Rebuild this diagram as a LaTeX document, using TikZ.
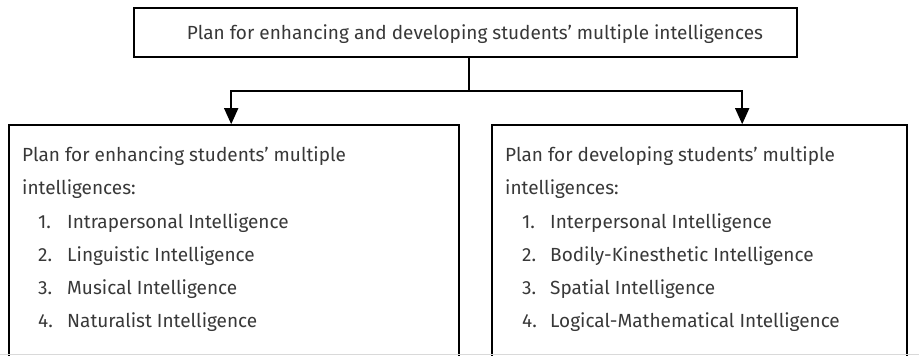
\documentclass[tikz,border=0pt]{standalone}
\usepackage{fontspec}
\setmainfont{Fira Sans}
\usetikzlibrary{arrows.meta,calc}
\begin{document}
\begin{tikzpicture}[x=1pt,y=-1pt,
  box/.style={draw,line width=1.6pt,rectangle,inner sep=0pt},
  conn/.style={line width=1.6pt},
  arr/.style={conn,-{Triangle[width=14pt,length=16pt]}},
  txt/.style={anchor=base west,inner sep=0pt,font=\fontsize{19}{22}\selectfont,text=black!78}]
\useasboundingbox (0,0) rectangle (919,356);
\node[box,minimum width=663pt,minimum height=49pt] (top) at (465.5,32.5) {};
\node[box,minimum width=450pt,minimum height=240pt] (left) at (234,245) {};
\node[box,minimum width=415pt,minimum height=240pt] (right) at (699.5,245) {};
\node[txt,anchor=base] (title) at (475,39) {Plan for enhancing and developing students’ multiple intelligences};
\coordinate (j) at (469,91);
\draw[conn] (top.south -| j) -- (j);
\draw[arr] (j) -| ($(left.north west)+(223,0)$);
\draw[arr] (j) -| ($(right.north west)+(251,0)$);
% left text
\node[txt] (l0) at (22,161) {Plan for enhancing students’ multiple};
\node[txt] (l1) at (22,194) {intelligences:};
\node[txt] (ln1) at (38,228) {1.};
\node[txt] (li1) at (67,228) {Intrapersonal Intelligence};
\node[txt] (ln2) at (38,261) {2.};
\node[txt] (li2) at (67,261) {Linguistic Intelligence};
\node[txt] (ln3) at (38,294) {3.};
\node[txt] (li3) at (67,294) {Musical Intelligence};
\node[txt] (ln4) at (38,327) {4.};
\node[txt] (li4) at (67,327) {Naturalist Intelligence};
% right text
\node[txt] (r0) at (505,161) {Plan for developing students’ multiple};
\node[txt] (r1) at (505,194) {intelligences:};
\node[txt] (rn1) at (522,228) {1.};
\node[txt] (ri1) at (550,228) {Interpersonal Intelligence};
\node[txt] (rn2) at (522,261) {2.};
\node[txt] (ri2) at (550,261) {Bodily-Kinesthetic Intelligence};
\node[txt] (rn3) at (522,294) {3.};
\node[txt] (ri3) at (550,294) {Spatial Intelligence};
\node[txt] (rn4) at (522,327) {4.};
\node[txt] (ri4) at (550,327) {Logical-Mathematical Intelligence};
\draw[black!15,line width=1pt] (0,354.5) -- (919,354.5);
\end{tikzpicture}
\end{document}
